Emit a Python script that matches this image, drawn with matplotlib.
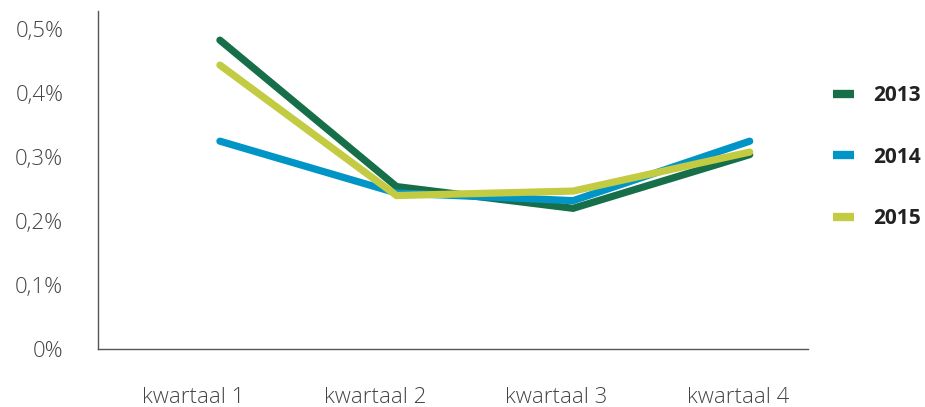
import matplotlib.pyplot as plt
from matplotlib.lines import Line2D
from matplotlib.ticker import FuncFormatter

# percentages per kwartaal
quarters = ['kwartaal 1', 'kwartaal 2', 'kwartaal 3', 'kwartaal 4']
years = ['2013', '2014', '2015']
v2013 = [0.483, 0.254, 0.220, 0.304]
v2014 = [0.325, 0.244, 0.232, 0.325]
v2015 = [0.444, 0.240, 0.247, 0.308]
colors = ['#176f4a', '#0095c6', '#c2cb42']

plt.rcParams['font.family'] = ['Open Sans', 'DejaVu Sans']

fig = plt.figure(figsize=(9.25, 4.07), dpi=100)
ax = fig.add_axes([0.106, 0.1425, 0.7675, 0.8305])

x = range(len(quarters))
for vals, c in zip([v2013, v2014, v2015], colors):
    ax.plot(x, vals, color=c, lw=5.2, solid_capstyle='round', solid_joinstyle='miter')

ax.set_xlim(-0.69, 3.33)
ax.set_ylim(0, 0.5286)
ax.set_yticks([0, 0.1, 0.2, 0.3, 0.4, 0.5])
ax.yaxis.set_major_formatter(FuncFormatter(
    lambda v, p: '0%' if v == 0 else ('%.1f%%' % v).replace('.', ',')))
ax.set_xticks([])

# category labels sit on a slightly different spacing than the points
ax2 = ax.twiny()
ax2.set_xlim(-0.523, 3.385)
ax2.set_xticks(list(x))
ax2.set_xticklabels(quarters)
ax2.xaxis.set_ticks_position('bottom')
ax2.xaxis.set_label_position('bottom')

for a in (ax, ax2):
    for s in ['top', 'right']:
        a.spines[s].set_visible(False)
ax2.spines['left'].set_visible(False)
ax2.spines['bottom'].set_visible(False)
for s in ['left', 'bottom']:
    ax.spines[s].set_color('#555555')
    ax.spines[s].set_linewidth(1.0)
ax.tick_params(axis='y', length=0, pad=25, labelsize=16, labelcolor='#444444')
ax2.tick_params(axis='x', length=0, pad=27, labelsize=16, labelcolor='#444444')
for lab in ax2.get_xticklabels() + ax.get_yticklabels():
    lab.set_fontweight('light')

handles = [Line2D([0], [0], color=c, lw=6, solid_capstyle='butt') for c in colors]
leg = fig.legend(handles, years, loc='upper left', bbox_to_anchor=(0.880, 0.836),
                 frameon=False, handlelength=1.0, handletextpad=0.95,
                 labelspacing=1.93, prop={'size': 15, 'weight': 'bold'})
for t in leg.get_texts():
    t.set_color('#222222')

fig.savefig('out.png', dpi=100)
